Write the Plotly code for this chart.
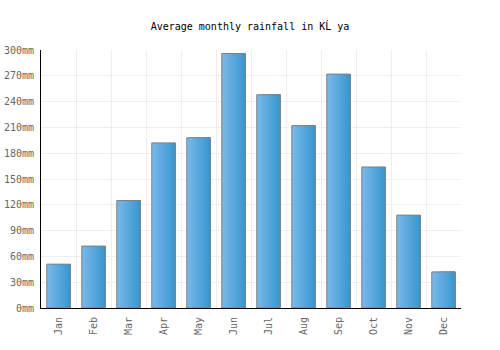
import plotly.graph_objects as go

months = ["Jan", "Feb", "Mar", "Apr", "May", "Jun", "Jul", "Aug", "Sep", "Oct", "Nov", "Dec"]
rainfall = [51, 72, 125, 192, 198, 296, 248, 212, 272, 164, 108, 42]
title_text = "Average monthly rainfall in KĹ ya"

fig = go.Figure()

bar_w = 0.67
n_strips = 16
step = bar_w / n_strips
c0 = (0x78, 0xb8, 0xea)
c1 = (0x3a, 0x98, 0xd0)
for i in range(n_strips):
    t = i / (n_strips - 1)
    col = "rgb(%d,%d,%d)" % tuple(round(a + (b - a) * t) for a, b in zip(c0, c1))
    fig.add_trace(go.Bar(
        x=months, y=rainfall,
        width=bar_w - i * step,
        offset=-bar_w / 2 + i * step,
        marker=dict(color=col, line=dict(width=0)),
        hoverinfo="skip", showlegend=False,
    ))
fig.add_trace(go.Bar(
    x=months, y=rainfall, width=bar_w, offset=-bar_w / 2,
    marker=dict(color="rgba(0,0,0,0)", line=dict(color="#808080", width=1)),
    showlegend=False,
))

fig.update_layout(
    barmode="overlay",
    width=500, height=350,
    margin=dict(l=41, r=39, t=50, b=42),
    paper_bgcolor="white", plot_bgcolor="white",
    title=dict(text=title_text, x=0.5, xanchor="center", y=0.925, yanchor="middle",
               font=dict(family="DejaVu Sans Mono", size=10, color="#000")),
    font=dict(family="DejaVu Sans Mono", size=10, color="#666666"),
)
fig.update_xaxes(
    type="category", tickson="boundaries", showgrid=True, gridcolor="#eeeeee", gridwidth=1,
    showline=True, linecolor="#000", linewidth=1, ticks="", tickangle=-90,
    range=[-0.5, 11.5], fixedrange=True, automargin=False, ticklabelstandoff=4,
)
fig.update_yaxes(
    range=[0, 300], dtick=30, ticksuffix="mm", showgrid=True, gridcolor="#eeeeee", gridwidth=1,
    showline=True, linecolor="#000", linewidth=1, ticks="", zeroline=False, automargin=False,
    ticklabelstandoff=4,
)

fig.write_html("out.html")
